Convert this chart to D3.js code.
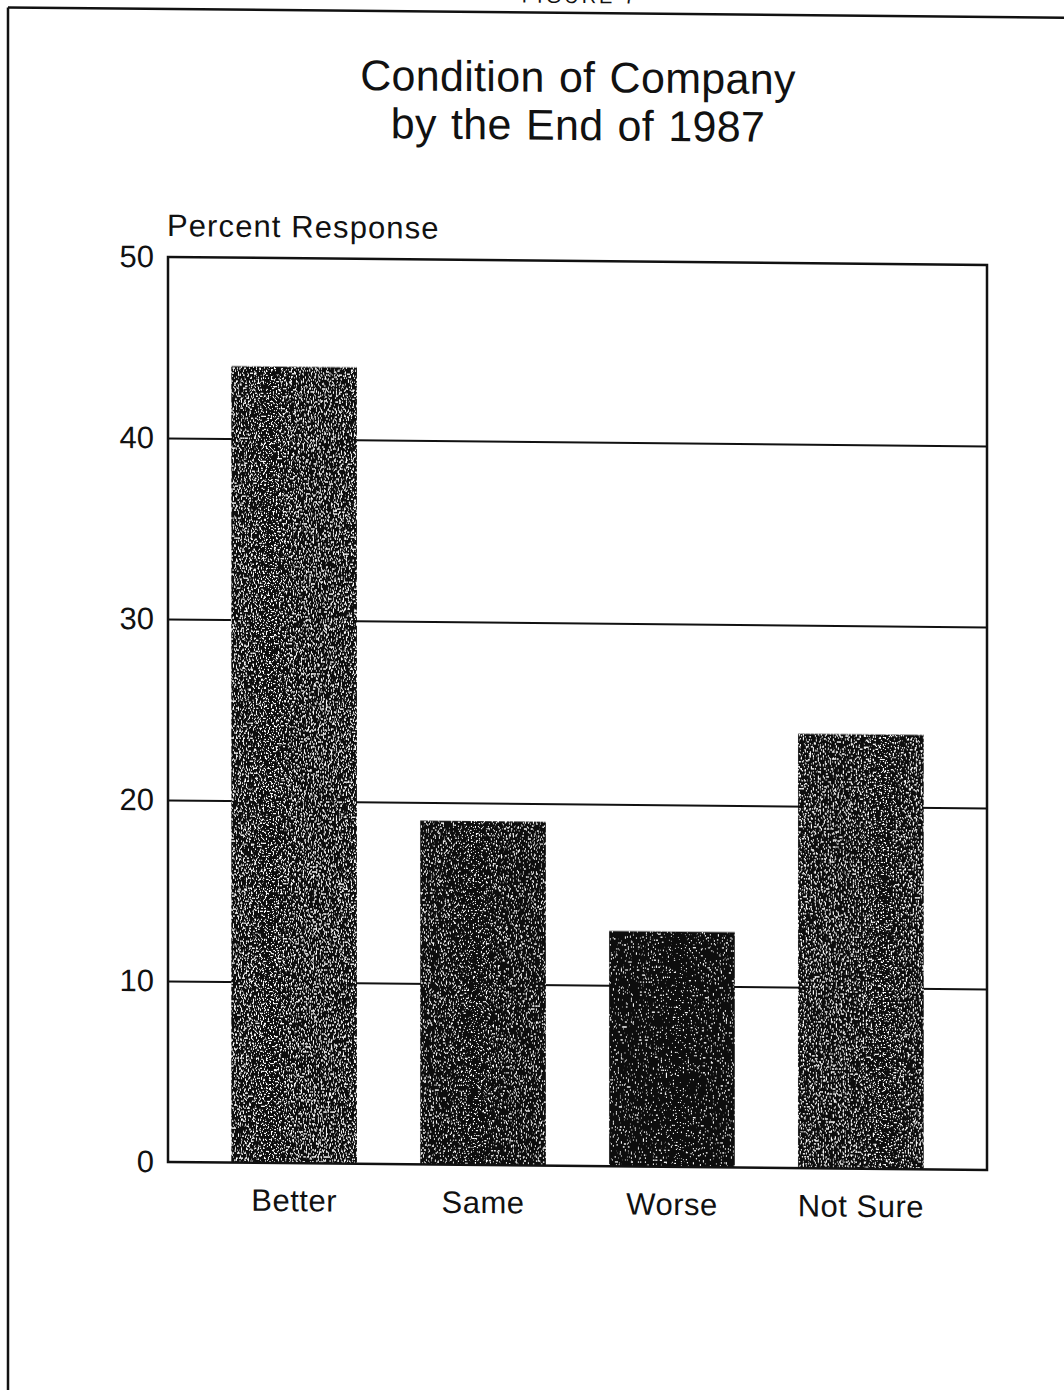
<!DOCTYPE html>
<html>
<head>
<meta charset="utf-8">
<script src="https://cdn.jsdelivr.net/npm/d3@7"></script>
<style>
  html, body { margin: 0; padding: 0; background: #fff; }
  svg { display: block; }
  text { font-family: "Liberation Sans", Arial, Helvetica, sans-serif; fill: #111; }
</style>
</head>
<body>
<svg id="chart" width="1064" height="1390"></svg>
<script>
// Survey responses: expected condition of the company by the end of 1987
const categories = ["Better", "Same", "Worse", "Not Sure"];
const percentResponse = [44, 19, 13, 24];
const yTicks = [0, 10, 20, 30, 40, 50];
const titleLines = ["Condition of Company", "by the End of 1987"];
const yAxisTitle = "Percent Response";
const pageHeading = "FIGURE 7";

const W = 1064, H = 1390;
const margin = { left: 168, right: 77, top: 261, bottom: 224 };
const plotW = W - margin.left - margin.right;   // 819
const plotH = H - margin.top - margin.bottom;   // 905

const svg = d3.select("#chart");

// Speckled, photocopied-looking fills for the bars (one per bar, different density)
const defs = svg.append("defs");
const grain = [
  { id: "grain0", seed: 3, cut: -7.0 },
  { id: "grain1", seed: 7, cut: -7.4 },
  { id: "grain2", seed: 11, cut: -8.0 },
  { id: "grain3", seed: 17, cut: -7.2 }
];
grain.forEach(g => {
  const f = defs.append("filter").attr("id", g.id)
    .attr("x", 0).attr("y", 0).attr("width", 1).attr("height", 1);
  f.append("feTurbulence").attr("type", "fractalNoise")
    .attr("baseFrequency", 0.6).attr("numOctaves", 2).attr("seed", g.seed).attr("result", "noise");
  f.append("feColorMatrix").attr("in", "noise").attr("type", "matrix")
    .attr("values", `0 0 0 0 1  0 0 0 0 1  0 0 0 0 1  12 0 0 0 ${g.cut}`)
    .attr("result", "dots");
  f.append("feComposite").attr("in", "dots").attr("in2", "SourceGraphic")
    .attr("operator", "in").attr("result", "dotsIn");
  const m = f.append("feMerge");
  m.append("feMergeNode").attr("in", "SourceGraphic");
  m.append("feMergeNode").attr("in", "dotsIn");
});

// The whole sheet sits with a slight vertical shear
const sheet = svg.append("g")
  .attr("transform", "translate(577,0) skewY(0.56) translate(-577,0)");

// Page frame: top rule and left rule
sheet.append("line").attr("x1", 8).attr("x2", W + 20).attr("y1", 13).attr("y2", 13)
  .attr("stroke", "#111").attr("stroke-width", 2.5);
sheet.append("line").attr("x1", 8).attr("x2", 8).attr("y1", 13).attr("y2", H + 20)
  .attr("stroke", "#111").attr("stroke-width", 2.5);

sheet.append("text").attr("x", 580).attr("y", 3)
  .attr("text-anchor", "middle").attr("font-size", 20)
  .style("letter-spacing", "3px").text(pageHeading);

// Title
sheet.append("g").selectAll("text").data(titleLines).join("text")
  .attr("x", 578).attr("y", (d, i) => 92 + i * 48)
  .attr("text-anchor", "middle")
  .attr("font-size", 43)
  .style("letter-spacing", "0.3px")
  .style("word-spacing", "2px")
  .text(d => d);

const g = sheet.append("g").attr("transform", `translate(${margin.left},${margin.top})`);

const x = d3.scaleBand().domain(categories).range([0, plotW])
  .paddingInner(0.335).paddingOuter(0.335);
const y = d3.scaleLinear().domain([0, 50]).range([plotH, 0]);

// Y axis with gridlines across the plot
const yAxis = d3.axisLeft(y).tickValues(yTicks).tickSizeInner(-plotW).tickSizeOuter(0).tickPadding(14);
const ya = g.append("g").attr("class", "y-axis").call(yAxis);
ya.select(".domain").remove();
ya.selectAll(".tick line").attr("stroke", "#111").attr("stroke-width", 2)
  .filter(d => d === 0 || d === 50).remove();
ya.selectAll(".tick text").attr("font-size", 31).attr("fill", "#111")
  .style("font-family", "'Liberation Sans', Arial, sans-serif");

// Bars
g.append("g").selectAll("rect").data(categories).join("rect")
  .attr("x", d => x(d))
  .attr("y", (d, i) => y(percentResponse[i]))
  .attr("width", x.bandwidth())
  .attr("height", (d, i) => y(0) - y(percentResponse[i]))
  .attr("fill", "#111")
  .attr("filter", (d, i) => `url(#${grain[i].id})`);

// Plot frame
g.append("rect").attr("x", 0).attr("y", 0).attr("width", plotW).attr("height", plotH)
  .attr("fill", "none").attr("stroke", "#111").attr("stroke-width", 2.5);

// X axis category labels
const xAxis = d3.axisBottom(x).tickSize(0).tickPadding(26);
const xa = g.append("g").attr("transform", `translate(0,${plotH})`).call(xAxis);
xa.select(".domain").remove();
xa.selectAll(".tick text").attr("font-size", 31).attr("fill", "#111")
  .style("font-family", "'Liberation Sans', Arial, sans-serif")
  .style("letter-spacing", "0.5px");

// Y axis title
g.append("text").attr("x", -1).attr("y", -21)
  .attr("font-size", 31).style("letter-spacing", "1.1px")
  .text(yAxisTitle);
</script>
</body>
</html>
